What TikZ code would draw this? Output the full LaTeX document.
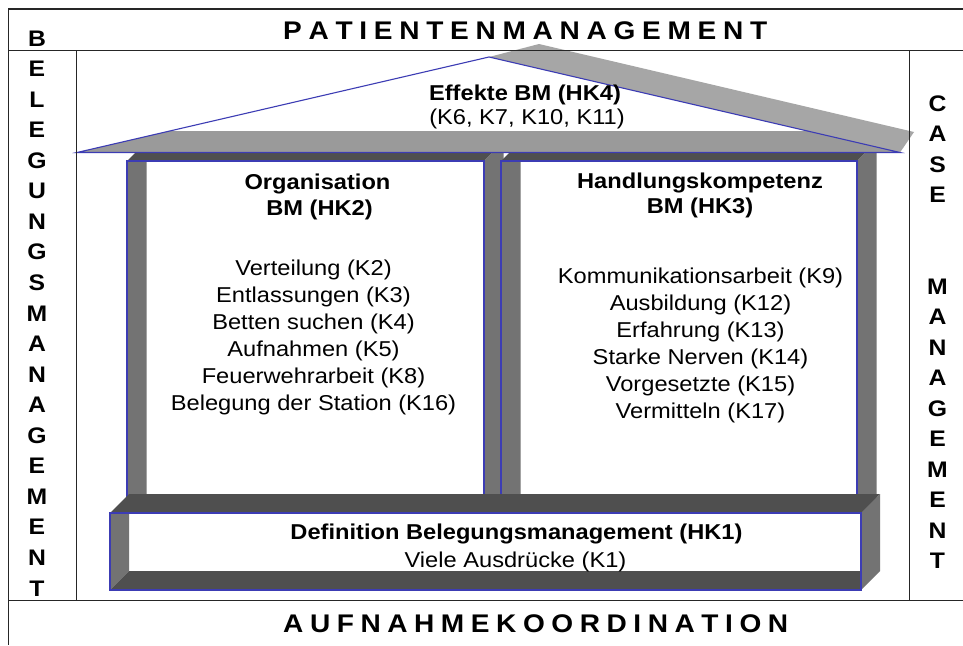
\documentclass[tikz,border=0pt]{standalone}
\usepackage{fontspec}
\setmainfont{Liberation Sans}[FakeStretch=1.1]
\definecolor{roofgray}{HTML}{9A9A9A}
\definecolor{slabgray}{HTML}{A6A6A6}
\definecolor{darkface}{HTML}{4F4F4F}
\definecolor{midface}{HTML}{737373}
\definecolor{edgeblue}{HTML}{3C3CB4}
\definecolor{framecol}{HTML}{262626}
\tikzset{
  frameline/.style={draw=framecol,line width=1pt},
  blueedge/.style={draw=edgeblue,line width=1.1pt},
  bodytext/.style={inner sep=0pt,anchor=base,font=\fontsize{21.5}{26}\selectfont},
  boldtext/.style={bodytext,font=\fontsize{21.5}{26}\selectfont\bfseries},
  colletter/.style={inner sep=0pt,anchor=base,font=\fontsize{22.5}{26}\selectfont\bfseries},
  spaced/.style={inner sep=0pt,anchor=base west,font=\fontsize{25.5}{30}\selectfont\bfseries},
}
\newcommand{\tubebox}[5]{%
  \fill[white] (#1,#2) rectangle (#3,#4);
  \fill[darkface] (#1,#2) -- ({#1+#5},{#2-#5}) -- ({#3+#5},{#2-#5}) -- (#3,#2) -- cycle;
  \fill[midface] (#3,#2) -- ({#3+#5},{#2-#5}) -- ({#3+#5},{#4-#5}) -- (#3,#4) -- cycle;
  \fill[midface] (#1,#2) -- ({#1+#5},#2) -- ({#1+#5},{#4-#5}) -- (#1,#4) -- cycle;
  \fill[darkface] (#1,#4) -- ({#1+#5},{#4-#5}) -- (#3,{#4-#5}) -- (#3,#4) -- cycle;
  \draw[blueedge] (#1,#2) rectangle (#3,#4);
}
\begin{document}
\begin{tikzpicture}[x=1pt,y=-1pt]
\useasboundingbox (0,0) rectangle (963,645);
\fill[white] (0,0) rectangle (963,645);

% rooms
\tubebox{127}{161}{484}{560}{19.5}
\tubebox{501}{161}{857}{560}{19.5}

% roof
\fill[white] (77,152.5) -- (489,57) -- (900,152.5) -- cycle;
\begin{scope}
  \clip (77,152.5) -- (489,57) -- (900,152.5) -- cycle;
  \fill[roofgray] (0,131) rectangle (963,152.5);
\end{scope}
\fill[slabgray] (489,57) -- (539,44) -- (914,132) -- (900,152.5) -- cycle;
\draw[blueedge] (77,152.5) -- (489,57) -- (900,152.5) -- cycle;

% foundation
\tubebox{110}{513}{861}{590}{19}

% frame lines
\draw[frameline,line width=1.6pt] (8,9) -- (963,9);
\draw[frameline] (8,9) -- (8,645);
\draw[frameline] (8,50) -- (963,50);
\draw[frameline] (76,50) -- (76,600);
\draw[frameline] (909,50) -- (909,600);
\draw[frameline] (8,600) -- (963,600);

% titles
\node[spaced] (top) at (283,39) {\makebox[484pt][s]{P\hfill A\hfill T\hfill I\hfill E\hfill N\hfill T\hfill E\hfill N\hfill M\hfill A\hfill N\hfill A\hfill G\hfill E\hfill M\hfill E\hfill N\hfill T}};
\node[spaced] (bottom) at (283,632) {\makebox[505pt][s]{A\hfill U\hfill F\hfill N\hfill A\hfill H\hfill M\hfill E\hfill K\hfill O\hfill O\hfill R\hfill D\hfill I\hfill N\hfill A\hfill T\hfill I\hfill O\hfill N}};

% left column letters
\foreach \c [count=\i from 0] in {B,E,L,E,G,U,N,G,S,M,A,N,A,G,E,M,E,N,T}
  \node[colletter] (bl\i) at (37,{46+\i*30.56}) {\c};
% right column letters
\foreach \c [count=\i from 0] in {C,A,S,E}
  \node[colletter] (cs\i) at (937.5,{111+\i*30.5}) {\c};
\foreach \c [count=\i from 0] in {M,A,N,A,G,E,M,E,N,T}
  \node[colletter] (cm\i) at (937.5,{294+\i*30.5}) {\c};

% roof text
\node[boldtext] (eff1) at (525,100) {Effekte BM (HK4)};
\node[bodytext] (eff2) at (527,124) {(K6, K7, K10, K11)};

% left room
\node[boldtext] (org1) at (317.5,189) {Organisation};
\node[boldtext] (org2) at (319.5,215) {BM (HK2)};
\foreach \t [count=\i from 0] in {{Verteilung (K2)},{Entlassungen (K3)},{Betten suchen (K4)},{Aufnahmen (K5)},{Feuerwehrarbeit (K8)},{Belegung der Station (K16)}}
  \node[bodytext] (ol\i) at (313.5,{275+\i*27}) {\t};

% right room
\node[boldtext] (hk1) at (700,188) {Handlungskompetenz};
\node[boldtext] (hk2) at (700,213) {BM (HK3)};
\foreach \t [count=\i from 0] in {{Kommunikationsarbeit (K9)},{Ausbildung (K12)},{Erfahrung (K13)},{Starke Nerven (K14)},{Vorgesetzte (K15)},{Vermitteln (K17)}}
  \node[bodytext] (hl\i) at (700.5,{283+\i*27}) {\t};

% foundation text
\node[boldtext] (def1) at (516.5,539.5) {Definition Belegungsmanagement (HK1)};
\node[bodytext] (def2) at (515.5,567.5) {Viele Ausdrücke (K1)};
\end{tikzpicture}
\end{document}
